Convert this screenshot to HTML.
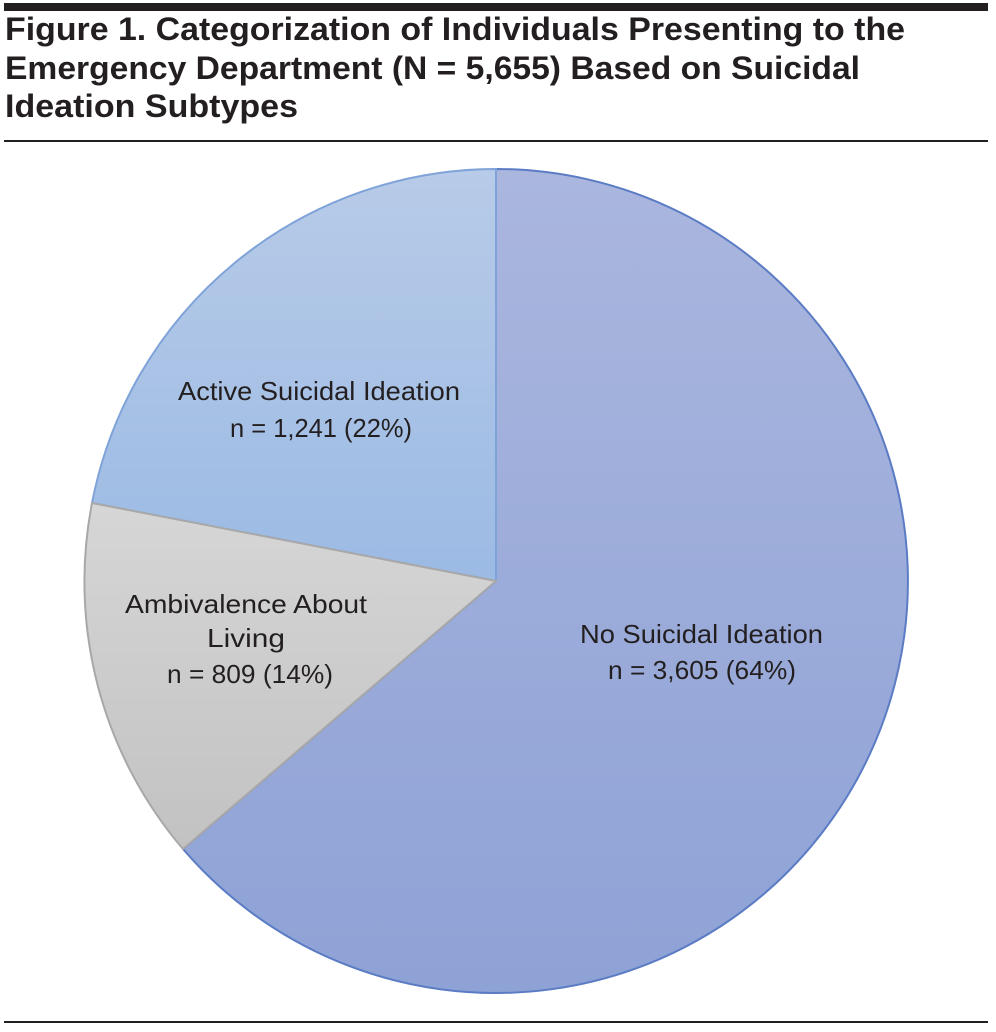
<!DOCTYPE html>
<html><head><style>html,body{margin:0;padding:0;background:#fff}svg{display:block}</style></head>
<body>
<svg width="996" height="1032" viewBox="0 0 996 1032" xmlns="http://www.w3.org/2000/svg">
<defs>
<linearGradient id="g1" x1="0" y1="0" x2="0" y2="1"><stop offset="0" stop-color="#aab6de"/><stop offset="1" stop-color="#8ea2d6"/></linearGradient>
<linearGradient id="g2" x1="0" y1="0" x2="0" y2="1"><stop offset="0" stop-color="#b8cbe8"/><stop offset="1" stop-color="#9bbae4"/></linearGradient>
<linearGradient id="g3" x1="0" y1="0" x2="0" y2="1"><stop offset="0" stop-color="#d6d6d6"/><stop offset="1" stop-color="#c2c2c2"/></linearGradient>
</defs>
<rect x="4" y="3" width="984" height="8" fill="#231f20"/>
<g font-family="Liberation Sans, sans-serif" font-weight="bold" font-size="32" fill="#231f20">
<text x="5" y="40" textLength="900" lengthAdjust="spacingAndGlyphs">Figure 1. Categorization of Individuals Presenting to the</text>
<text x="5" y="79" textLength="855" lengthAdjust="spacingAndGlyphs">Emergency Department (N = 5,655) Based on Suicidal</text>
<text x="5" y="117" textLength="293" lengthAdjust="spacingAndGlyphs">Ideation Subtypes</text>
</g>
<rect x="4" y="140" width="984" height="2" fill="#231f20"/>
<rect x="4" y="1021" width="984" height="2" fill="#231f20"/>
<path d="M496,581 L496,169 A412,412 0 1 1 183,849 Z" fill="url(#g1)" stroke="#5b7cc4" stroke-width="2"/>
<path d="M496,581 L92,503 A412,412 0 0 1 496,169 Z" fill="url(#g2)" stroke="#7fa3d8" stroke-width="2"/>
<path d="M496,581 L183,849 A412,412 0 0 1 92,503 Z" fill="url(#g3)" stroke="#a8a8a8" stroke-width="2"/>
<g font-family="Liberation Sans, sans-serif" font-size="26" fill="#231f20">
<text x="178" y="400" textLength="282" lengthAdjust="spacingAndGlyphs">Active Suicidal Ideation</text>
<text x="230" y="437" textLength="182" lengthAdjust="spacingAndGlyphs">n = 1,241 (22%)</text>
<text x="125" y="613" textLength="242" lengthAdjust="spacingAndGlyphs">Ambivalence About</text>
<text x="207" y="647" textLength="78" lengthAdjust="spacingAndGlyphs">Living</text>
<text x="167" y="683" textLength="166" lengthAdjust="spacingAndGlyphs">n = 809 (14%)</text>
<text x="580" y="643" textLength="243" lengthAdjust="spacingAndGlyphs">No Suicidal Ideation</text>
<text x="608" y="679" textLength="188" lengthAdjust="spacingAndGlyphs">n = 3,605 (64%)</text>
</g>
</svg>
</body></html>
